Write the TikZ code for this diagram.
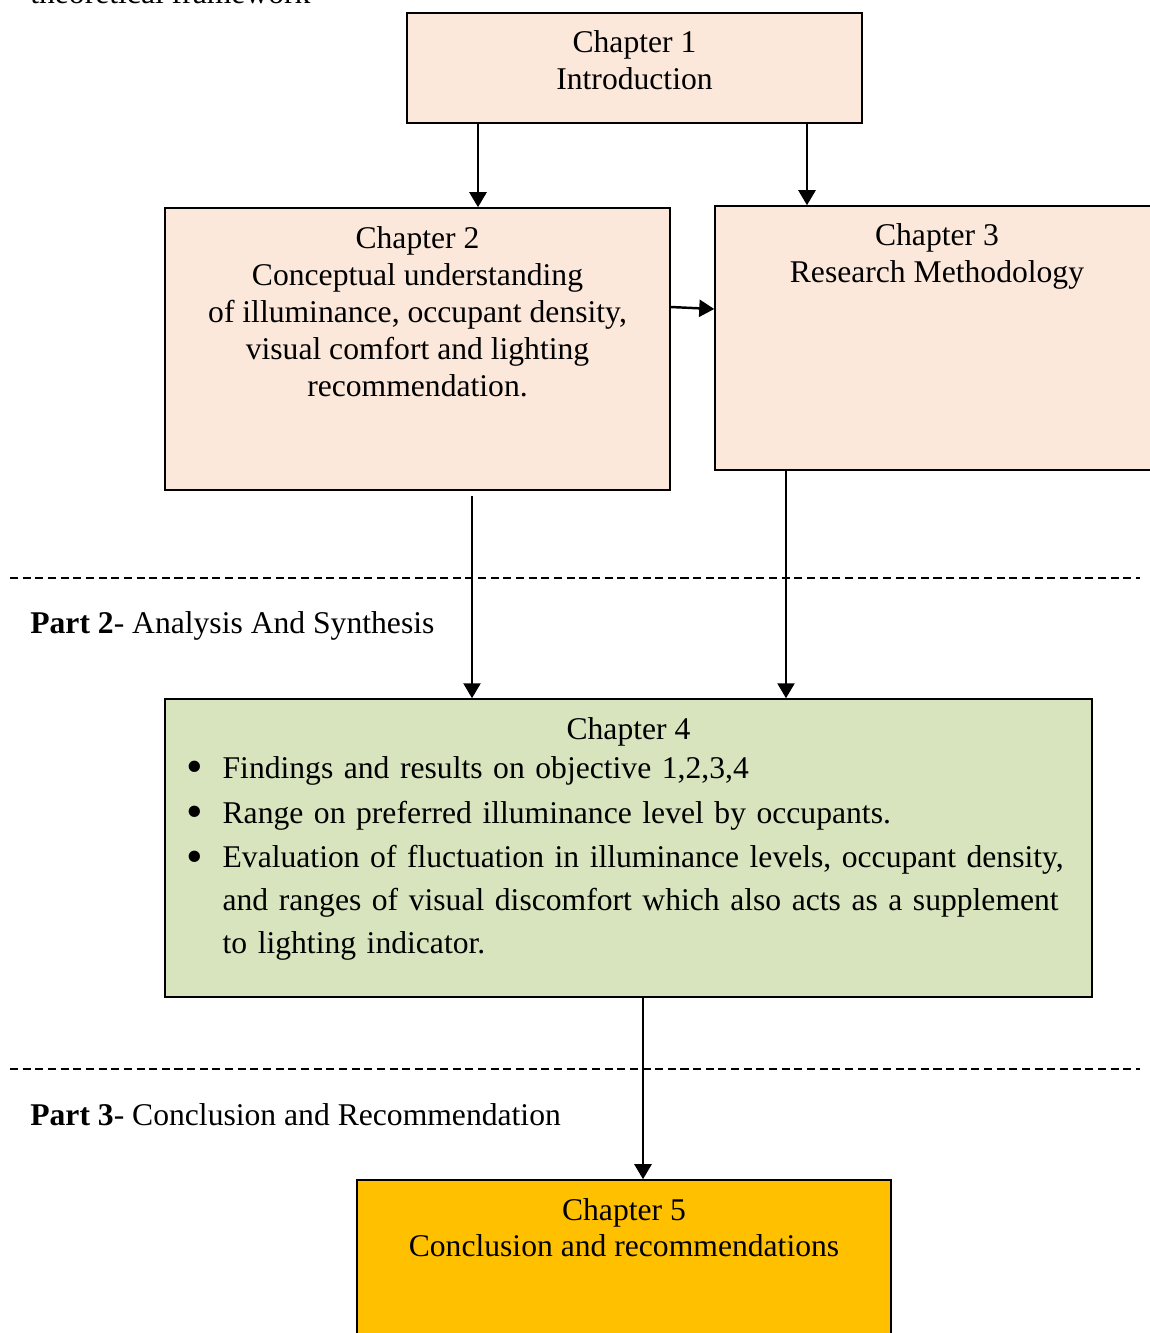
\documentclass[tikz,border=0pt]{standalone}
\usepackage{fontspec}
\setmainfont{Liberation Serif}
\usetikzlibrary{arrows.meta, positioning}

\definecolor{peach}{HTML}{FCE8DA}
\definecolor{sage}{HTML}{D8E4BD}
\definecolor{amber}{HTML}{FFC000}

\newcommand{\bitem}[1]{\noindent\hangindent=1.16cm\hangafter=1\hspace*{0.44cm}\makebox[0.72cm][l]{\raisebox{-0.3ex}{\scalebox{1.5}{\textbullet}}}#1\par}

\begin{document}
\begin{tikzpicture}[
    x=0.02cm, y=-0.02cm,
    chapbox/.style={draw, line width=0.9pt, inner sep=0pt},
    boxtext/.style={anchor=north, align=center, inner sep=0pt, font=\fontsize{18}{21}\selectfont},
    parttext/.style={anchor=base west, inner sep=0pt, font=\fontsize{18}{21}\selectfont},
    divider/.style={line width=0.7pt, dash pattern=on 4.6pt off 2.6pt},
    arrow/.style={-{Triangle[length=3mm, width=3.4mm]}, line width=1.4pt}
]
    \useasboundingbox (0,0) rectangle (1150,1333);
    \clip (0,0) rectangle (1150,1333);

    % Leftover caption line at the top
    \node[parttext] (caption) at (30,3) {theoretical framework};

    % Part 1 boxes
    \node[chapbox, fill=peach, minimum width=9.1cm, minimum height=2.2cm] (ch1) at (634.5,68) {};
    \node[boxtext, below=0.36cm of ch1.north] (ch1txt) {Chapter 1\\Introduction};

    \node[chapbox, fill=peach, minimum width=10.1cm, minimum height=5.64cm] (ch2) at (417.5,349) {};
    \node[boxtext, below=0.38cm of ch2.north] (ch2txt) {Chapter 2\\Conceptual understanding\\of illuminance, occupant density,\\visual comfort and lighting\\recommendation.};

    \node[chapbox, fill=peach, minimum width=9.0cm, minimum height=5.28cm] (ch3) at (940,338) {};
    \node[boxtext, below=0.36cm of ch3.north, xshift=-0.06cm] (ch3txt) {Chapter 3\\Research Methodology};

    % Part 2
    \draw[divider] (10,578) coordinate (div2a) -- (1140,578) coordinate (div2b);
    \node[parttext] (part2) at (30,633) {\textbf{Part 2}- Analysis And Synthesis};

    \node[chapbox, fill=sage, minimum width=18.54cm, minimum height=5.96cm] (ch4) at (628.5,848) {};
    \node[boxtext, below=0.37cm of ch4.north] (ch4txt) {Chapter 4};
    \node[anchor=north west, inner sep=0pt, text width=18.2cm,
          font=\fontsize{18}{24.4}\selectfont, below right=1.16cm and 0cm of ch4.north west] (ch4list) {\raggedright
        \bitem{Findings and results on objective 1,2,3,4}
        \vspace{1pt}
        \bitem{Range on preferred illuminance level by occupants.}
        \vspace{1pt}
        \bitem{Evaluation of fluctuation in illuminance levels, occupant density,\newline and ranges of visual discomfort which also acts as a supplement\newline to lighting indicator.}};

    % Part 3
    \draw[divider] (10,1069) coordinate (div3a) -- (1140,1069) coordinate (div3b);
    \node[parttext] (part3) at (30,1125) {\textbf{Part 3}- Conclusion and Recommendation};

    \node[chapbox, fill=amber, minimum width=10.68cm, minimum height=4.4cm] (ch5) at (624,1290) {};
    \node[boxtext, below=0.37cm of ch5.north] (ch5txt) {Chapter 5\\Conclusion and recommendations};

    % Connectors
    \draw[arrow] (ch1.south -| 478,0) -- (ch2.north -| 478,0);
    \draw[arrow] (ch1.south -| 807,0) -- (ch3.north -| 807,0);
    \draw[arrow] (ch2.east |- 0,307) -- (ch3.west |- 0,309);
    \draw[arrow] ([yshift=-0.1cm]ch2.south -| 472,0) -- (ch4.north -| 472,0);
    \draw[arrow] (ch3.south -| 786,0) -- (ch4.north -| 786,0);
    \draw[arrow] (ch4.south -| 643,0) -- (ch5.north -| 643,0);

\end{tikzpicture}
\end{document}
